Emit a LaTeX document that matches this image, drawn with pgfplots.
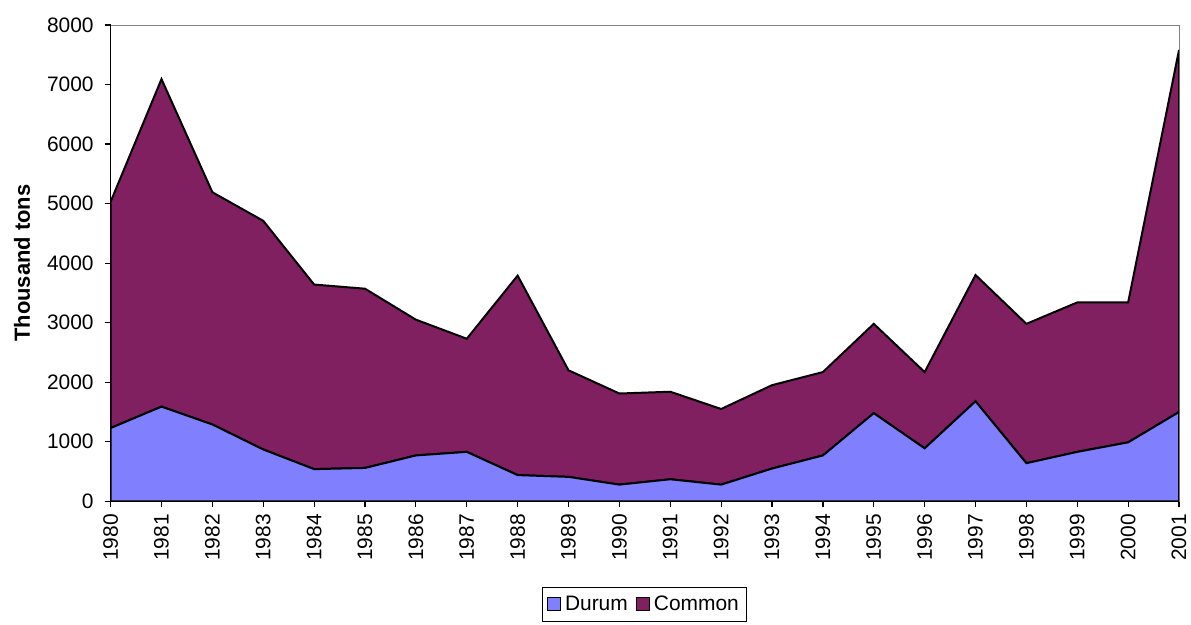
\documentclass[border=0pt]{standalone}
\usepackage{fontspec}
\setmainfont{Liberation Sans}
\usepackage{pgfplots}
\pgfplotsset{compat=1.18}
\usetikzlibrary{calc}
\definecolor{durum}{HTML}{8080FF}
\definecolor{common}{HTML}{802060}

\begin{document}
\begin{tikzpicture}
  \begin{axis}[
    name=ax,
    scale only axis,
    width=536pt, height=239pt,
    xmin=1980, xmax=2001,
    ymin=0, ymax=8000,
    xtick={1980,1981,...,2001},
    ytick={0,1000,...,8000},
    stack plots=y,
    tick pos=left,
    tick align=outside,
    major tick length=3pt,
    axis line style={gray},
    tick style={black, line width=0.6pt},
    /pgf/number format/1000 sep={},
    /pgf/number format/assume math mode=true,
    tick label style={font=\fontsize{10.5pt}{12pt}\selectfont},
    xticklabel style={rotate=90, anchor=east},
    yticklabel style={xshift=-2pt},
    ylabel={\bfseries Thousand tons},
    ylabel style={font=\fontsize{11pt}{13pt}\selectfont, at={(rel axis cs:0,0.5)}, anchor=center, rotate=0, yshift=44.5pt},
    legend columns=2,
    area legend,
    legend image code/.code={\draw[#1, draw=black, line width=0.6pt] (0pt,-3.2pt) rectangle (6.5pt,3.3pt);},
    legend style={at={(rel axis cs:0.5,-0.18)}, anchor=north, draw=black, line width=0.5pt,
      font=\fontsize{10.5pt}{12pt}\selectfont, inner sep=2pt,
      /tikz/every even column/.append style={column sep=2pt}},
    after end axis/.code={
      \draw[black, line width=0.8pt] (rel axis cs:0,1) -- (rel axis cs:0,0) -- (rel axis cs:1,0);
    },
  ]
    \addplot[fill=durum, draw=black, line width=1pt] coordinates {
      (1980,1230) (1981,1590) (1982,1290) (1983,870) (1984,540) (1985,560)
      (1986,770) (1987,830) (1988,440) (1989,410) (1990,280) (1991,370)
      (1992,280) (1993,550) (1994,770) (1995,1480) (1996,890) (1997,1680)
      (1998,640) (1999,830) (2000,990) (2001,1500)
    } \closedcycle;
    \addlegendentry{Durum}
    \addplot[fill=common, draw=black, line width=1pt] coordinates {
      (1980,3800) (1981,5500) (1982,3900) (1983,3840) (1984,3100) (1985,3010)
      (1986,2280) (1987,1900) (1988,3350) (1989,1790) (1990,1530) (1991,1470)
      (1992,1270) (1993,1400) (1994,1400) (1995,1500) (1996,1280) (1997,2120)
      (1998,2340) (1999,2510) (2000,2350) (2001,6080)
    } \closedcycle;
    \addlegendentry{Common}
  \end{axis}
  \pgfresetboundingbox
  \path ($(ax.south west)+(-55.5pt,-62pt)$) rectangle ($(ax.north east)+(6pt,12.5pt)$);
\end{tikzpicture}
\end{document}
